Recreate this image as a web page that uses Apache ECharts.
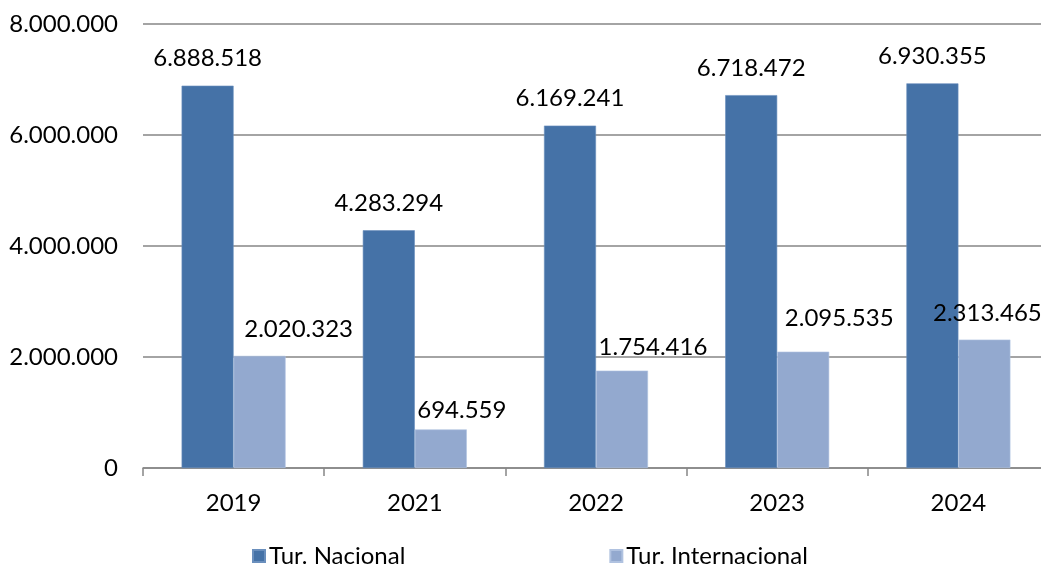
<!DOCTYPE html>
<html>
<head>
<meta charset="utf-8">
<script src="https://cdn.jsdelivr.net/npm/echarts@6/dist/echarts.min.js"></script>
<style>
html,body{margin:0;padding:0;background:#fff;overflow:hidden;width:1041px;height:567px;}
#chart{width:1049px;height:567px;}
</style>
</head>
<body>
<div id="chart"></div>
<script>
const categories = ['2019', '2021', '2022', '2023', '2024'];
const nacional = [6888518, 4283294, 6169241, 6718472, 6930355];
const internacional = [2020323, 694559, 1754416, 2095535, 2313465];
const seriesNames = ['Tur. Nacional', 'Tur. Internacional'];
const yTicks = { min: 0, max: 8000000, interval: 2000000 };

function fmt(v) {
  return String(v).replace(/\B(?=(\d{3})+(?!\d))/g, '.');
}

// label nudges for the light series (as placed in the original)
const intlLabelNudge = [[39, 0], [21, 8], [31, 4], [36, -6], [3, 1]];

const FONT = 'Lato';
const FS = 24;

const chart = echarts.init(document.getElementById('chart'));
chart.setOption({
  animation: false,
  backgroundColor: '#fff',
  textStyle: { fontFamily: FONT },
  grid: { left: 143, top: 24, right: 0, bottom: 99, containLabel: false },
  legend: {
    left: 247, top: 539,
    icon: 'rect', itemWidth: 12, itemHeight: 12, itemGap: 204,
    textStyle: { fontFamily: FONT, fontSize: FS, color: '#000', padding: [0, 0, 0, -1] },
    data: seriesNames
  },
  xAxis: {
    type: 'category',
    data: categories,
    axisLine: { lineStyle: { color: '#868686', width: 1.5 } },
    axisTick: { show: true, length: 8, lineStyle: { color: '#868686', width: 1.5 } },
    axisLabel: { fontFamily: FONT, fontSize: FS, color: '#000', margin: 23 }
  },
  yAxis: {
    type: 'value',
    min: yTicks.min, max: yTicks.max, interval: yTicks.interval,
    axisLine: { show: false },
    axisTick: { show: false },
    splitLine: { lineStyle: { color: '#868686', width: 1.5 } },
    axisLabel: { fontFamily: FONT, fontSize: FS, color: '#000', margin: 25, formatter: fmt }
  },
  series: [
    {
      name: seriesNames[0], type: 'bar', data: nacional,
      barWidth: 52, barGap: '0%',
      itemStyle: { color: '#4572A7', borderColor: '#6a8fbd', borderWidth: 0.6 },
      label: { show: true, position: 'top', distance: 15, fontFamily: FONT, fontSize: FS, color: '#000',
        formatter: p => fmt(p.value) }
    },
    {
      name: seriesNames[1], type: 'bar',
      data: internacional.map((v, i) => ({ value: v, label: { offset: intlLabelNudge[i] } })),
      barWidth: 52, barGap: '0%',
      itemStyle: { color: '#93A9CF', borderColor: '#b0c2e0', borderWidth: 0.6 },
      label: { show: true, position: 'top', distance: 15, fontFamily: FONT, fontSize: FS, color: '#000',
        formatter: p => fmt(p.value) }
    }
  ]
});
</script>
</body>
</html>
